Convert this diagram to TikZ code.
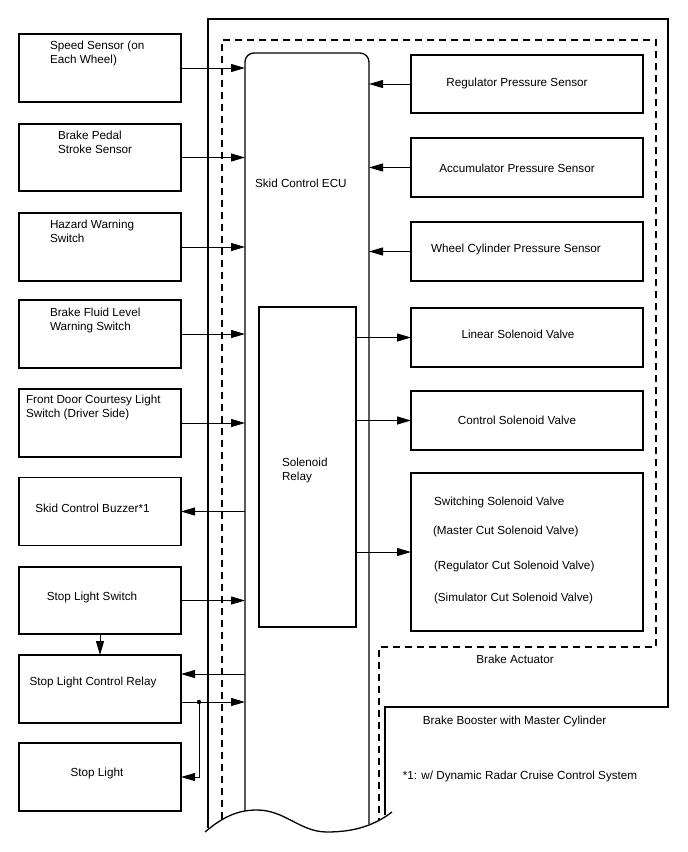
\documentclass[tikz,border=0pt]{standalone}
\usepackage{fontspec}
\setmainfont{Liberation Sans}
\usetikzlibrary{arrows.meta}
\tikzset{
  txt/.style={font=\fontsize{11.7}{14}\selectfont, inner sep=0pt, outer sep=0pt},
  lbox/.style={draw, line width=1.3pt, minimum width=162pt, minimum height=68pt, inner sep=0pt, outer sep=0pt},
  rbox/.style={draw, line width=1.3pt, minimum width=232pt, minimum height=59pt, inner sep=0pt, outer sep=0pt},
  wire/.style={line width=1pt},
  arr/.style={wire, -{Triangle[length=14pt,width=8pt]}},
  outline/.style={line width=1.3pt},
  dashline/.style={line width=1.2pt, dash pattern=on 7pt off 5pt}
}
\begin{document}
\begin{tikzpicture}[x=1pt,y=-1pt]
\useasboundingbox (0,0) rectangle (688,852);

% enclosures
\draw[outline] (208,828) -- (208,19) -- (668,19) -- (668,707) -- (385,707) -- (385,815);
\draw[dashline] (222,819) -- (222,40) -- (656,40) -- (656,647) -- (379,647) -- (379,820);

% ECU
\node[minimum width=124pt, minimum height=757pt, inner sep=0pt, outer sep=0pt] (ecu) at (307,431.5) {};
\draw[outline, rounded corners=9pt] (245,811) -- (245,53) -- (369,53) -- (369,824);
\node[txt, anchor=west] (ecut) at (255,183) {Skid Control ECU};

% break wave
\draw[outline] (205,832) .. controls (225,815) and (240,810) .. (257,810)
  .. controls (285,810) and (300,832) .. (327,832)
  .. controls (355,832) and (375,825) .. (392,812);

% solenoid relay
\node[draw, line width=1.3pt, minimum width=97pt, minimum height=320pt, inner sep=0pt, outer sep=0pt] (relay) at (307.5,467) {};
\node[txt, anchor=west, align=left] (relayt) at (282,470) {Solenoid\\Relay};

% left boxes
\node[lbox] (b1) at (100,68) {};
\node[lbox, minimum height=67pt] (b2) at (100,157.5) {};
\node[lbox] (b3) at (100,247) {};
\node[lbox] (b4) at (100,334) {};
\node[lbox] (b5) at (100,423) {};
\node[lbox] (b6) at (100,511.5) {};
\node[lbox, minimum height=67pt] (b7) at (100,600.5) {};
\node[lbox] (b8) at (100,689) {};
\node[lbox] (b9) at (100,777) {};

\node[txt, anchor=west, align=left] (t1) at (50,53) {Speed Sensor (on\\Each Wheel)};
\node[txt, anchor=west, align=left] (t2) at (58,142) {Brake Pedal\\Stroke Sensor};
\node[txt, anchor=west, align=left] (t3) at (50,231) {Hazard Warning\\Switch};
\node[txt, anchor=west, align=left] (t4) at (50,320) {Brake Fluid Level\\Warning Switch};
\node[txt, anchor=west, align=left] (t5) at (26,407) {Front Door Courtesy Light\\Switch (Driver Side)};
\node[txt] (t6) at (92.5,508) {Skid Control Buzzer*1};
\node[txt] (t7) at (92,597) {Stop Light Switch};
\node[txt] (t8) at (93,682) {Stop Light Control Relay};
\node[txt] (t9) at (97,773) {Stop Light};

% right boxes
\node[rbox, minimum height=58pt] (r1) at (527,84) {};
\node[rbox] (r2) at (527,167.5) {};
\node[rbox] (r3) at (527,251.5) {};
\node[rbox] (r4) at (527,337.5) {};
\node[rbox] (r5) at (527,420.5) {};
\node[rbox, minimum height=158pt] (r6) at (527,552) {};

\node[txt] (s1) at (517,83) {Regulator Pressure Sensor};
\node[txt] (s2) at (517,168) {Accumulator Pressure Sensor};
\node[txt] (s3) at (516,249) {Wheel Cylinder Pressure Sensor};
\node[txt] (s4) at (518,334) {Linear Solenoid Valve};
\node[txt] (s5) at (517,420) {Control Solenoid Valve};
\node[txt, anchor=west] (s6a) at (434,502) {Switching Solenoid Valve};
\node[txt, anchor=west] (s6b) at (433,531) {(Master Cut Solenoid Valve)};
\node[txt, anchor=west] (s6c) at (434,566) {(Regulator Cut Solenoid Valve)};
\node[txt, anchor=west] (s6d) at (434,598) {(Simulator Cut Solenoid Valve)};

% other labels
\node[txt] (ba) at (515,659) {Brake Actuator};
\node[txt] (bb) at (514.5,721) {Brake Booster with Master Cylinder};
\node[txt] (note) at (520,776) {*1: w/ Dynamic Radar Cruise Control System};

% left connectors
\draw[arr] (b1.east) -- (b1.east -| ecu.west);
\draw[arr] (b2.east) -- (b2.east -| ecu.west);
\draw[arr] (b3.east) -- (b3.east -| ecu.west);
\draw[arr] (b4.east) -- (b4.east -| ecu.west);
\draw[arr] (b5.east) -- (b5.east -| ecu.west);
\draw[arr] (b6.east -| ecu.west) -- (b6.east);
\draw[arr] (b7.east) -- (b7.east -| ecu.west);
\draw[arr] (b7.south) -- (b8.north);
\draw[arr] ([yshift=15pt]b8.east -| ecu.west) -- ([yshift=15pt]b8.east);
\draw[arr] ([yshift=-13pt]b8.east) -- ([yshift=-13pt]b8.east -| ecu.west);
\coordinate (jn) at (199,702);
\fill (jn) circle (2.2pt);
\draw[arr] (jn) |- (b9.east);

% right connectors
\draw[arr] (r1.west) -- (r1.west -| ecu.east);
\draw[arr] (r2.west) -- (r2.west -| ecu.east);
\draw[arr] (r3.west) -- (r3.west -| ecu.east);
\draw[arr] (r4.west -| relay.east) -- (r4.west);
\draw[arr] (r5.west -| relay.east) -- (r5.west);
\draw[arr] (r6.west -| relay.east) -- (r6.west);
\end{tikzpicture}
\end{document}
